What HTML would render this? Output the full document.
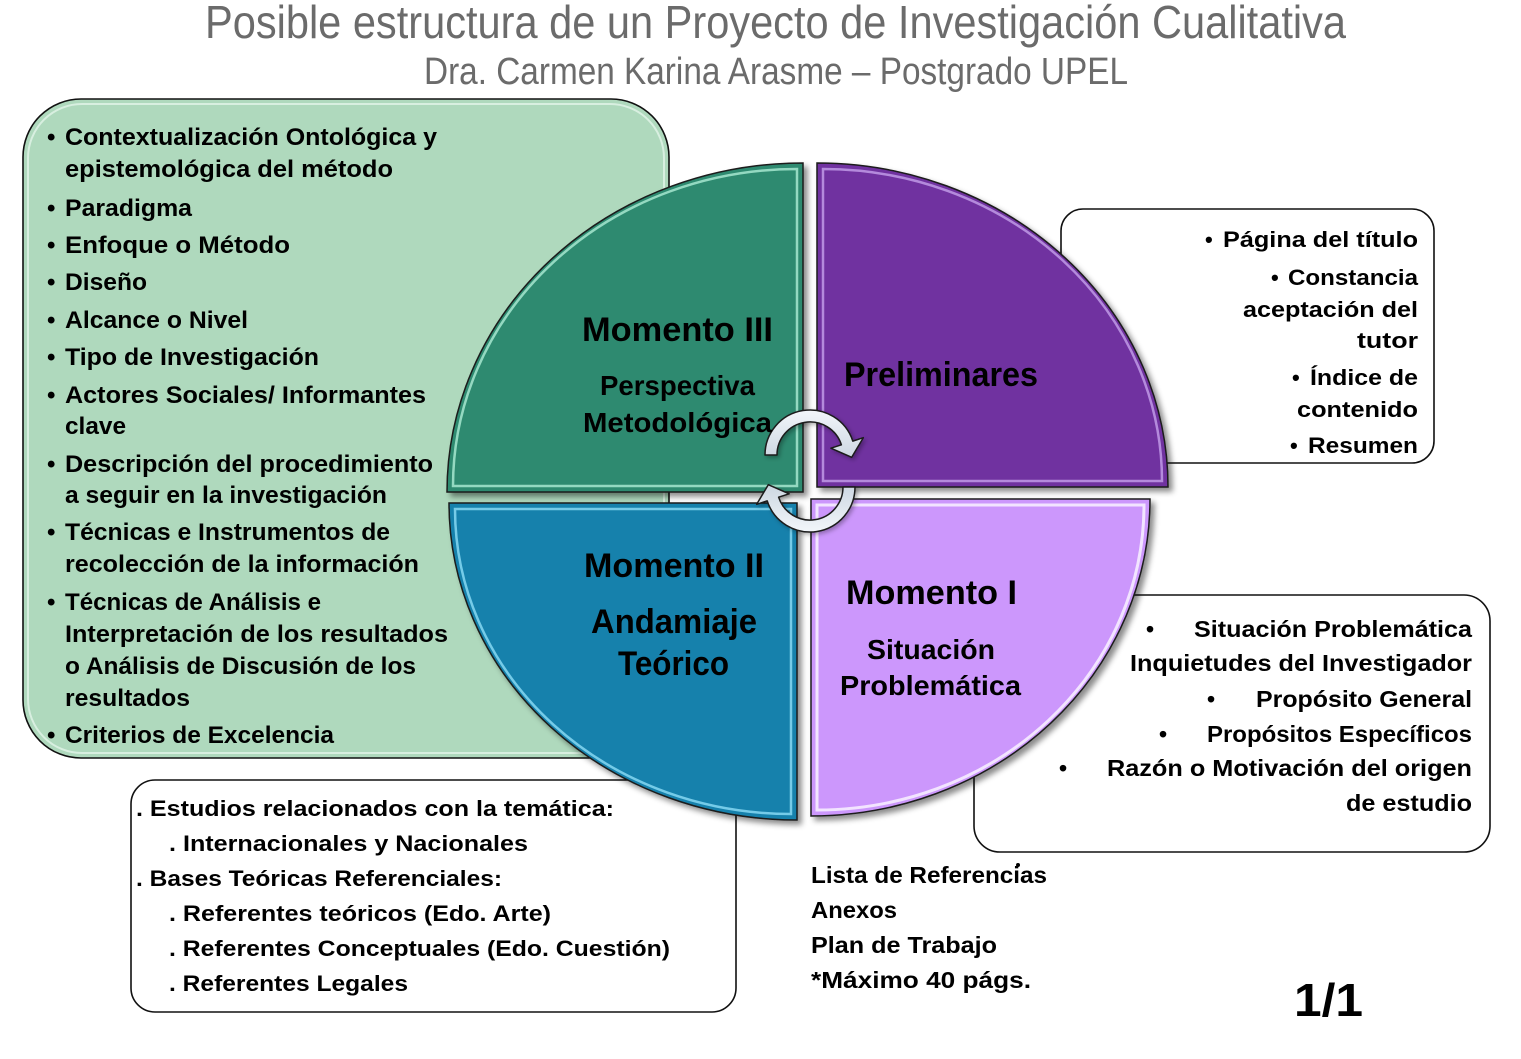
<!DOCTYPE html>
<html><head><meta charset="utf-8"><style>
html,body{margin:0;padding:0;background:#fff;}
svg{display:block;}
text{font-family:"Liberation Sans",Arial,sans-serif;font-weight:bold;fill:#000;}
</style></head><body>
<svg width="1521" height="1059" viewBox="0 0 1521 1059" xmlns="http://www.w3.org/2000/svg">
<defs>
<filter id="sh" x="-10%" y="-10%" width="130%" height="130%">
<feDropShadow dx="4" dy="4" stdDeviation="3" flood-color="#000" flood-opacity="0.45"/>
</filter>
<filter id="sh2" x="-10%" y="-10%" width="130%" height="130%">
<feDropShadow dx="2" dy="2" stdDeviation="2" flood-color="#000" flood-opacity="0.3"/>
</filter>
<linearGradient id="arw" x1="0" y1="0" x2="0" y2="1">
<stop offset="0" stop-color="#f2f6fa"/><stop offset="1" stop-color="#cdd7e2"/>
</linearGradient>
</defs>

<!-- Title -->
<text x="205" y="38" font-size="46" textLength="1141" lengthAdjust="spacingAndGlyphs" style="font-weight:normal;fill:#6b6b6b">Posible estructura de un Proyecto de Investigación Cualitativa</text>
<text x="424" y="84" font-size="38" textLength="704" lengthAdjust="spacingAndGlyphs" style="font-weight:normal;fill:#6b6b6b">Dra. Carmen Karina Arasme – Postgrado UPEL</text>

<!-- Boxes -->
<rect x="23" y="99" width="646" height="659" rx="58" ry="58" fill="#afd9bd" stroke="#111" stroke-width="1.6"/>
<rect x="28" y="104" width="636" height="649" rx="54" ry="54" fill="none" stroke="#e2f4e8" stroke-width="2" opacity="0.8"/>
<rect x="1061" y="209" width="373" height="254" rx="22" ry="22" fill="#fff" stroke="#111" stroke-width="1.6"/>
<rect x="974" y="595" width="516" height="257" rx="26" ry="26" fill="#fff" stroke="#111" stroke-width="1.6"/>
<rect x="131" y="780" width="605" height="232" rx="24" ry="24" fill="#fff" stroke="#111" stroke-width="1.6"/>

<!-- Quadrants -->
<g filter="url(#sh)">
<path d="M803,492 L447,492 A356,329 0 0 1 803,163 Z" fill="#2e8a70" stroke="#1a1a1a" stroke-width="1.5"/>
<path d="M817,487 L817,163 A351,324 0 0 1 1168,487 Z" fill="#7030a0" stroke="#1a1a1a" stroke-width="1.5"/>
<path d="M797,503 L797,820 A348,317 0 0 1 449,503 Z" fill="#1681ac" stroke="#1a1a1a" stroke-width="1.5"/>
<path d="M811,499 L1150,499 A339,317 0 0 1 811,816 Z" fill="#cc97fc" stroke="#1a1a1a" stroke-width="1.5"/>
</g>
<path d="M797,486 L453,486 A344,317 0 0 1 797,169 Z" fill="none" stroke="#a6e6cf" stroke-width="2.5" opacity="0.85"/>
<path d="M823,481 L823,169 A339,312 0 0 1 1162,481 Z" fill="none" stroke="#c09ae6" stroke-width="2.5" opacity="0.85"/>
<path d="M791,509 L791,814 A336,305 0 0 1 455,509 Z" fill="none" stroke="#86d8f2" stroke-width="2.5" opacity="0.85"/>
<path d="M817,505 L1144,505 A327,305 0 0 1 817,810 Z" fill="none" stroke="#f6ecff" stroke-width="3" opacity="0.9"/>

<!-- Cycle arrows -->
<g filter="url(#sh2)">
<path d="M765,455 A45,45 0 0 1 852.8,441.1 L863.3,437.7 L851.7,457.3 L830.9,448.2 L841.4,444.8 A33,33 0 0 0 777,455 Z" fill="url(#arw)" stroke="#1a1a1a" stroke-width="1.5" stroke-linejoin="round"/>
<path d="M765,455 A45,45 0 0 1 852.8,441.1 L863.3,437.7 L851.7,457.3 L830.9,448.2 L841.4,444.8 A33,33 0 0 0 777,455 Z" transform="rotate(180 810 471)" fill="url(#arw)" stroke="#1a1a1a" stroke-width="1.5" stroke-linejoin="round"/>
</g>

<!-- Left list -->
<g font-size="24">
<text x="47" y="145">•</text>
<text x="65" y="145" textLength="372" lengthAdjust="spacingAndGlyphs">Contextualización Ontológica y</text>
<text x="65" y="177" textLength="328" lengthAdjust="spacingAndGlyphs">epistemológica del método</text>
<text x="47" y="216">•</text>
<text x="65" y="216" textLength="127" lengthAdjust="spacingAndGlyphs">Paradigma</text>
<text x="47" y="253">•</text>
<text x="65" y="253" textLength="225" lengthAdjust="spacingAndGlyphs">Enfoque o Método</text>
<text x="47" y="290">•</text>
<text x="65" y="290" textLength="82" lengthAdjust="spacingAndGlyphs">Diseño</text>
<text x="47" y="328">•</text>
<text x="65" y="328" textLength="183" lengthAdjust="spacingAndGlyphs">Alcance o Nivel</text>
<text x="47" y="365">•</text>
<text x="65" y="365" textLength="254" lengthAdjust="spacingAndGlyphs">Tipo de Investigación</text>
<text x="47" y="403">•</text>
<text x="65" y="403" textLength="361" lengthAdjust="spacingAndGlyphs">Actores Sociales/ Informantes</text>
<text x="65" y="434" textLength="61" lengthAdjust="spacingAndGlyphs">clave</text>
<text x="47" y="472">•</text>
<text x="65" y="472" textLength="368" lengthAdjust="spacingAndGlyphs">Descripción del procedimiento</text>
<text x="65" y="503" textLength="322" lengthAdjust="spacingAndGlyphs">a seguir en la investigación</text>
<text x="47" y="540">•</text>
<text x="65" y="540" textLength="325" lengthAdjust="spacingAndGlyphs">Técnicas e Instrumentos de</text>
<text x="65" y="572" textLength="354" lengthAdjust="spacingAndGlyphs">recolección de la información</text>
<text x="47" y="610">•</text>
<text x="65" y="610" textLength="256" lengthAdjust="spacingAndGlyphs">Técnicas de Análisis e</text>
<text x="65" y="642" textLength="383" lengthAdjust="spacingAndGlyphs">Interpretación de los resultados</text>
<text x="65" y="674" textLength="351" lengthAdjust="spacingAndGlyphs">o Análisis de Discusión de los</text>
<text x="65" y="706" textLength="125" lengthAdjust="spacingAndGlyphs">resultados</text>
<text x="47" y="743">•</text>
<text x="65" y="743" textLength="269" lengthAdjust="spacingAndGlyphs">Criterios de Excelencia</text>
</g>

<!-- Quadrant labels -->
<text x="582" y="341" font-size="34" textLength="191" lengthAdjust="spacingAndGlyphs">Momento III</text>
<text x="600" y="395" font-size="28" textLength="155" lengthAdjust="spacingAndGlyphs">Perspectiva</text>
<text x="583" y="432" font-size="28" textLength="189" lengthAdjust="spacingAndGlyphs">Metodológica</text>
<text x="844" y="386" font-size="34" textLength="194" lengthAdjust="spacingAndGlyphs">Preliminares</text>
<text x="584" y="577" font-size="34" textLength="180" lengthAdjust="spacingAndGlyphs">Momento II</text>
<text x="591" y="633" font-size="34" textLength="166" lengthAdjust="spacingAndGlyphs">Andamiaje</text>
<text x="618" y="675" font-size="34" textLength="111" lengthAdjust="spacingAndGlyphs">Teórico</text>
<text x="846" y="604" font-size="34" textLength="171" lengthAdjust="spacingAndGlyphs">Momento I</text>
<text x="867" y="659" font-size="28" textLength="128" lengthAdjust="spacingAndGlyphs">Situación</text>
<text x="840" y="695" font-size="28" textLength="181" lengthAdjust="spacingAndGlyphs">Problemática</text>

<!-- Right top box -->
<g font-size="22">
<text x="1205" y="247">•</text>
<text x="1223" y="247" textLength="195" lengthAdjust="spacingAndGlyphs">Página del título</text>
<text x="1271" y="285">•</text>
<text x="1288" y="285" textLength="130" lengthAdjust="spacingAndGlyphs">Constancia</text>
<text x="1243" y="317" textLength="175" lengthAdjust="spacingAndGlyphs">aceptación del</text>
<text x="1357" y="348" textLength="61" lengthAdjust="spacingAndGlyphs">tutor</text>
<text x="1292" y="385">•</text>
<text x="1310" y="385" textLength="108" lengthAdjust="spacingAndGlyphs">Índice de</text>
<text x="1297" y="417" textLength="121" lengthAdjust="spacingAndGlyphs">contenido</text>
<text x="1290" y="453">•</text>
<text x="1308" y="453" textLength="110" lengthAdjust="spacingAndGlyphs">Resumen</text>
</g>

<!-- Right bottom box -->
<g font-size="23">
<text x="1146" y="637">•</text>
<text x="1194" y="637" textLength="278" lengthAdjust="spacingAndGlyphs">Situación Problemática</text>
<text x="1130" y="671" textLength="342" lengthAdjust="spacingAndGlyphs">Inquietudes del Investigador</text>
<text x="1207" y="707">•</text>
<text x="1256" y="707" textLength="216" lengthAdjust="spacingAndGlyphs">Propósito General</text>
<text x="1159" y="742">•</text>
<text x="1207" y="742" textLength="265" lengthAdjust="spacingAndGlyphs">Propósitos Específicos</text>
<text x="1059" y="776">•</text>
<text x="1107" y="776" textLength="365" lengthAdjust="spacingAndGlyphs">Razón o Motivación del origen</text>
<text x="1346" y="811" textLength="126" lengthAdjust="spacingAndGlyphs">de estudio</text>
</g>
<circle cx="1018" cy="865" r="2" fill="#000"/>

<!-- Bottom left box -->
<g font-size="22">
<text x="136" y="816" textLength="478" lengthAdjust="spacingAndGlyphs">. Estudios relacionados con la temática:</text>
<text x="169" y="851" textLength="359" lengthAdjust="spacingAndGlyphs">. Internacionales y Nacionales</text>
<text x="136" y="886" textLength="366" lengthAdjust="spacingAndGlyphs">. Bases Teóricas Referenciales:</text>
<text x="169" y="921" textLength="382" lengthAdjust="spacingAndGlyphs">. Referentes teóricos (Edo. Arte)</text>
<text x="169" y="956" textLength="501" lengthAdjust="spacingAndGlyphs">. Referentes Conceptuales (Edo. Cuestión)</text>
<text x="169" y="991" textLength="239" lengthAdjust="spacingAndGlyphs">. Referentes Legales</text>
</g>

<!-- Bottom text -->
<g font-size="23">
<text x="811" y="883" textLength="236" lengthAdjust="spacingAndGlyphs">Lista de Referencias</text>
<text x="811" y="918" textLength="86" lengthAdjust="spacingAndGlyphs">Anexos</text>
<text x="811" y="953" textLength="186" lengthAdjust="spacingAndGlyphs">Plan de Trabajo</text>
<text x="811" y="988" textLength="220" lengthAdjust="spacingAndGlyphs">*Máximo 40 págs.</text>
</g>
<text x="1294" y="1016" font-size="46" textLength="69" lengthAdjust="spacingAndGlyphs">1/1</text>
</svg>
</body></html>
